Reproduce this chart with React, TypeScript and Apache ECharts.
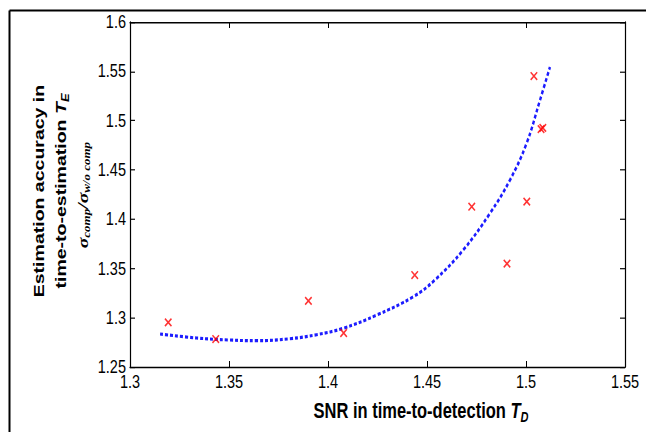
import React, { useEffect, useRef } from "react";
import * as echarts from "echarts";

// Axis ranges / ticks
const xMin = 1.3;
const xMax = 1.55;
const xStep = 0.05;
const yMin = 1.25;
const yMax = 1.6;
const yStep = 0.05;

// Fitted curve (blue dashed)
const fitX = [1.3152, 1.3337, 1.35, 1.364, 1.3808, 1.3943, 1.4077, 1.4246, 1.4431, 1.454, 1.4683, 1.4818, 1.4919, 1.5003, 1.5071, 1.5121];
const fitY = [1.2835, 1.2794, 1.2774, 1.2767, 1.2787, 1.2828, 1.2893, 1.3027, 1.3213, 1.3383, 1.3687, 1.4059, 1.4397, 1.4769, 1.5209, 1.5543];

// Measured points (red x)
const measX = [1.3193, 1.3433, 1.3901, 1.4079, 1.4438, 1.4726, 1.4904, 1.5004, 1.504, 1.5076, 1.5085];
const measY = [1.2953, 1.2784, 1.317, 1.2845, 1.3433, 1.4126, 1.3548, 1.4177, 1.5452, 1.4914, 1.4925];

const xTitle = "SNR in time-to-detection {t|T}{s|D}";
const yTitle1 = "Estimation accuracy in";
const yTitle2 = "time-to-estimation {t|T}{s|E}";
const yTitle3 = "{g|σ}{s|comp}{g|/}{g|σ}{s|w/o comp}";

const W = 646;
const H = 332;
const K = 432 / H;

const SANS = "'Liberation Sans', Arial, Helvetica, sans-serif";
const NARROW = "'Liberation Sans Narrow', 'Arial Narrow', 'Liberation Sans', sans-serif";
const SERIF = "'Liberation Serif', 'Times New Roman', serif";

const fmt = (v: number) => String(+v.toFixed(2));

export default function App() {
  const ref = useRef<HTMLDivElement>(null);
  useEffect(() => {
    const chart = echarts.init(ref.current!, null, { renderer: "svg" });
    const axisCommon = {
      type: "value" as const,
      splitLine: { show: false },
      axisLine: { show: true, onZero: false, lineStyle: { color: "#000", width: 1.2 } },
    };
    const xAx = (pos: "bottom" | "top", labels: boolean) => ({
      ...axisCommon,
      position: pos,
      min: xMin,
      max: xMax,
      interval: xStep,
      axisTick: { show: true, inside: true, length: 4.6, lineStyle: { color: "#000", width: 1 } },
      axisLabel: { show: labels, margin: 4, color: "#000", fontSize: 14.5, fontFamily: NARROW, formatter: fmt },
    });
    const yAx = (pos: "left" | "right", labels: boolean) => ({
      ...axisCommon,
      position: pos,
      min: yMin,
      max: yMax,
      interval: yStep,
      axisTick: { show: true, inside: true, length: 5, lineStyle: { color: "#000", width: 0.9 } },
      axisLabel: { show: labels, margin: 4, color: "#000", fontSize: 14.5, fontFamily: NARROW, formatter: fmt },
    });
    chart.setOption({
      animation: false,
      backgroundColor: "#fff",
      grid: { left: 130, right: 21, top: 16.9, bottom: 49.95, containLabel: false },
      xAxis: [xAx("bottom", true), xAx("top", false)],
      yAxis: [yAx("left", true), yAx("right", false)],
      series: [
        {
          type: "line",
          xAxisIndex: 0,
          yAxisIndex: 0,
          data: fitX.map((x, i) => [x, fitY[i]]),
          smooth: 0.4,
          showSymbol: false,
          lineStyle: { color: "#1c1cff", width: 2.4, type: [3, 2] },
          z: 2,
        },
        {
          type: "scatter",
          xAxisIndex: 0,
          yAxisIndex: 0,
          data: measX.map((x, i) => [x, measY[i]]),
          symbol: "path://M0,0L10,10M10,0L0,10",
          symbolSize: [6.5, 5.8],
          itemStyle: { color: "#ff0000", borderColor: "#ff0000", borderWidth: 1.4 },
          z: 3,
        },
      ],
      graphic: [
        { type: "line", shape: { x1: 9.5, y1: 8.07, x2: W, y2: 8.07 }, style: { stroke: "#000", lineWidth: 1.5 } },
        { type: "line", shape: { x1: 9.5, y1: 8.07, x2: 9.5, y2: H }, style: { stroke: "#000", lineWidth: 2 } },
        {
          type: "text",
          x: 421,
          y: 316,
          style: {
            text: xTitle,
            fontFamily: SANS,
            fontSize: 16.5,
            fontWeight: "bold",
            fill: "#000",
            align: "center",
            verticalAlign: "middle",
            lineHeight: 20,
            rich: {
              t: { fontFamily: SANS, fontSize: 16.5, fontWeight: "bold", fontStyle: "italic", lineHeight: 20 },
              s: { fontFamily: SANS, fontSize: 11, fontWeight: "bold", fontStyle: "italic", verticalAlign: "bottom" },
            },
          },
        },
        {
          type: "text",
          x: 39,
          y: 146.8,
          rotation: Math.PI / 2,
          style: {
            text: yTitle1,
            fontFamily: SANS,
            fontSize: 15,
            fontWeight: "bold",
            fill: "#000",
            align: "center",
            verticalAlign: "middle",
          },
        },
        {
          type: "text",
          x: 61,
          y: 146.8,
          rotation: Math.PI / 2,
          style: {
            text: yTitle2,
            fontFamily: SANS,
            fontSize: 15,
            fontWeight: "bold",
            fill: "#000",
            align: "center",
            verticalAlign: "middle",
            lineHeight: 18,
            rich: {
              t: { fontFamily: SANS, fontSize: 15, fontWeight: "bold", fontStyle: "italic", lineHeight: 18 },
              s: { fontFamily: SANS, fontSize: 10, fontWeight: "bold", fontStyle: "italic", verticalAlign: "bottom" },
            },
          },
        },
        {
          type: "text",
          x: 83,
          y: 149.9,
          rotation: Math.PI / 2,
          style: {
            text: yTitle3,
            fontFamily: SERIF,
            fontSize: 15,
            fill: "#000",
            align: "center",
            verticalAlign: "middle",
            lineHeight: 18,
            rich: {
              g: { fontFamily: SERIF, fontSize: 15, fontWeight: "bold", fontStyle: "italic", lineHeight: 18 },
              s: { fontFamily: SERIF, fontSize: 10, fontWeight: "bold", fontStyle: "italic", verticalAlign: "bottom" },
            },
          },
        },
      ],
    });
    return () => chart.dispose();
  }, []);
  return (
    <div
      ref={ref}
      style={{
        position: "absolute",
        left: 0,
        top: 0,
        width: W,
        height: H,
        transform: `scaleY(${K})`,
        transformOrigin: "0 0",
        background: "#fff",
      }}
    />
  );
}
